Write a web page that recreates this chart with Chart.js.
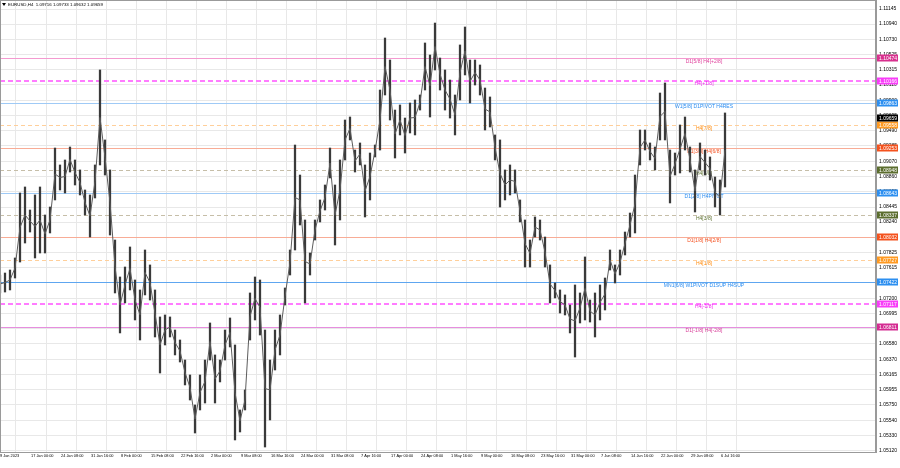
<!DOCTYPE html>
<html>
<head>
<meta charset="utf-8">
<script src="https://cdn.jsdelivr.net/npm/chart.js@4.4.0/dist/chart.umd.min.js"></script>
<style>
  html, body { margin: 0; padding: 0; background: #fff; }
</style>
</head>
<body>
<canvas id="chart" width="900" height="468"></canvas>
<script>
const highs = [
  1.07519, 1.07546, 1.07587, 1.07751, 1.08637, 1.08719, 1.08405, 1.08610, 1.08719, 1.08337,
  1.08446, 1.09250, 1.09019, 1.09087, 1.09264, 1.09087, 1.08951, 1.08678, 1.08610, 1.09019,
  1.10314, 1.09360, 1.08951, 1.07996, 1.07492, 1.07628, 1.07901, 1.07451, 1.07315, 1.07860,
  1.07656, 1.07315, 1.06947, 1.06974, 1.06947, 1.06769, 1.06633, 1.06360, 1.06156, 1.05747,
  1.06156, 1.06360, 1.06865, 1.06429, 1.06360, 1.06769, 1.06933, 1.06565, 1.05679, 1.05952,
  1.07274, 1.07492, 1.07451, 1.06769, 1.06360, 1.06769, 1.06974, 1.07342, 1.07860, 1.09291,
  1.08882, 1.08269, 1.07819, 1.08269, 1.08542, 1.08746, 1.09250, 1.08746, 1.09087, 1.09632,
  1.09673, 1.09223, 1.09319, 1.09019, 1.09182, 1.09291, 1.10041, 1.10750, 1.10450, 1.09768,
  1.09837, 1.09659, 1.09864, 1.09905, 1.09973, 1.10682, 1.10518, 1.10954, 1.10477, 1.10314,
  1.10177, 1.09973, 1.10655, 1.10900, 1.10450, 1.10450, 1.10382, 1.10068, 1.09946, 1.09428,
  1.09360, 1.08951, 1.09019, 1.08951, 1.08542, 1.08269, 1.07996, 1.08310, 1.08269, 1.08037,
  1.07656, 1.07410, 1.07315, 1.07247, 1.07110, 1.07383, 1.07274, 1.07765, 1.07178, 1.07274,
  1.07383, 1.07478, 1.07860, 1.07656, 1.07860, 1.08105, 1.08364, 1.08882, 1.09496, 1.09496,
  1.09319, 1.09264, 1.10000, 1.10137, 1.09223, 1.09182, 1.09564, 1.09673, 1.09264, 1.08951,
  1.09319, 1.09223, 1.09128, 1.08855, 1.08814, 1.09728
];
const lows = [
  1.07274, 1.07287, 1.07315, 1.07478, 1.07696, 1.07955, 1.08105, 1.07751, 1.07819, 1.07819,
  1.08092, 1.08542, 1.08678, 1.08637, 1.08923, 1.08746, 1.08610, 1.08337, 1.08037, 1.08569,
  1.09019, 1.08882, 1.08064, 1.07274, 1.06729, 1.07138, 1.07315, 1.06906, 1.06633, 1.07247,
  1.07178, 1.06674, 1.06183, 1.06565, 1.06674, 1.06429, 1.06333, 1.06020, 1.05815, 1.05365,
  1.05679, 1.05774, 1.06360, 1.05774, 1.06061, 1.06360, 1.06538, 1.05270, 1.05379, 1.05679,
  1.06633, 1.06906, 1.06701, 1.05174, 1.05543, 1.06224, 1.06429, 1.07110, 1.07519, 1.07860,
  1.08201, 1.07138, 1.07519, 1.07996, 1.08242, 1.08405, 1.08842, 1.07928, 1.08269, 1.09087,
  1.09360, 1.08923, 1.09019, 1.08310, 1.08542, 1.09128, 1.09223, 1.09973, 1.09632, 1.09114,
  1.09428, 1.09182, 1.09455, 1.09428, 1.09768, 1.10041, 1.09673, 1.10314, 1.10041, 1.09768,
  1.09659, 1.09428, 1.09905, 1.10246, 1.09864, 1.10109, 1.09973, 1.09496, 1.09537, 1.09087,
  1.08446, 1.08542, 1.08610, 1.08637, 1.08242, 1.07628, 1.07628, 1.08037, 1.07996, 1.07628,
  1.07138, 1.07206, 1.07001, 1.06974, 1.06729, 1.06401, 1.06865, 1.06906, 1.06878, 1.06674,
  1.06906, 1.07042, 1.07587, 1.07410, 1.07519, 1.07792, 1.08037, 1.08092, 1.09019, 1.09223,
  1.09087, 1.08951, 1.09360, 1.09360, 1.08501, 1.08882, 1.08910, 1.09223, 1.08923, 1.08378,
  1.08951, 1.08882, 1.08814, 1.08446, 1.08337, 1.08719
];

const dateLabels = [
  '9 Jan 2023', '17 Jan 00:00', '24 Jan 08:00', '31 Jan 16:00', '8 Feb 00:00', '15 Feb 08:00',
  '22 Feb 16:00', '2 Mar 00:00', '9 Mar 08:00', '16 Mar 16:00', '24 Mar 00:00', '31 Mar 08:00',
  '7 Apr 16:00', '17 Apr 00:00', '24 Apr 08:00', '1 May 16:00', '9 May 00:00', '16 May 08:00',
  '23 May 16:00', '31 May 00:00', '7 Jun 08:00', '14 Jun 16:00', '22 Jun 00:00', '29 Jun 08:00',
  '6 Jul 16:00'
];

const priceTicks = [
  1.11145, 1.10940, 1.10730, 1.10525, 1.10315, 1.10110, 1.09900, 1.09695, 1.09490, 1.09285,
  1.09070, 1.08860, 1.08655, 1.08445, 1.08240, 1.08035, 1.07825, 1.07615, 1.07410, 1.07200,
  1.06995, 1.06790, 1.06580, 1.06370, 1.06165, 1.05955, 1.05750, 1.05540, 1.05330, 1.05120
];

// Murrey levels drawn on the chart
const levelPrices = [1.10474, 1.10166, 1.09863, 1.09558, 1.09253, 1.08948, 1.08643,
                     1.08337, 1.08032, 1.07727, 1.07422, 1.07117, 1.06811];
const levelNames = ['D1[5/8] H4[+2/8]', 'H4[+1/8]', 'W1[5/8] D1PIVOT H4RES', 'H4[7/8]',
                    'D1[3/8] H4[6/8]', 'H4[5/8]', 'D1[2/8] H4PIVOT', 'H4[3/8]',
                    'D1[1/8] H4[2/8]', 'H4[1/8]', 'MN1[6/8] W1PIVOT D1SUP H4SUP',
                    'H4[-1/8]', 'D1[-1/8] H4[-2/8]'];
const levelKinds = ['pink', 'magenta', 'blue', 'orange', 'red', 'olive', 'blue',
                    'olive', 'red', 'orange', 'mn', 'magenta', 'purple'];

const lastPrice = 1.09659;
const header = 'EURUSD,H4  1.09716 1.09733 1.09632 1.09659';

const levelStyles = {
  pink:    { line: '#f49ad0', width: 1, dash: [],     tag: '#d8308e', text: '#e0409c' },
  magenta: { line: '#ff7cff', width: 2, dash: [5, 3], tag: '#f83cf8', text: '#f020f0' },
  blue:    { line: '#9fcaf6', width: 1, dash: [],     tag: '#2d8ff0', text: '#2a8cf0' },
  orange:  { line: '#ffcf9a', width: 1, dash: [4, 3], tag: '#ff9a22', text: '#ff8c10' },
  red:     { line: '#f8ac96', width: 1, dash: [],     tag: '#f4521e', text: '#f45020' },
  olive:   { line: '#c6bea8', width: 1, dash: [4, 3], tag: '#5b6d2e', text: '#5f7232' },
  mn:      { line: '#5ea6f0', width: 1, dash: [],     tag: '#2d8ff0', text: '#2a8cf0' },
  purple:  { line: '#e68ede', width: 1, dash: [],     tag: '#d42c92', text: '#d83c98' }
};

const FONT = '"Liberation Sans", Arial, sans-serif';
const labelAt = 140.8;       // time position of the level captions (in samples)
const tickPos = dateLabels.map((_, k) => (k === 0 ? 0 : 6.2 + 6 * (k - 1)));

const candles = highs.map((h, i) => ({ x: i, y: [lows[i], h] }));
const mids = highs.map((h, i) => ({ x: i, y: (h + lows[i]) / 2 }));

// no extra room for overflowing tick labels, the plot fills the canvas like MT4
const noPad = (axis) => {
  axis.paddingTop = 0; axis.paddingBottom = 0;
  axis.paddingLeft = 0; axis.paddingRight = 0;
};

const levelsPlugin = {
  id: 'levels',
  beforeDatasetsDraw(chart) {
    const { ctx, chartArea: a, scales: { x, y } } = chart;
    ctx.save();
    ctx.beginPath();
    ctx.rect(a.left, a.top, a.right - a.left, a.bottom - a.top);
    ctx.clip();
    levelPrices.forEach((p, i) => {
      const s = levelStyles[levelKinds[i]];
      const py = Math.round(y.getPixelForValue(p)) + (s.width === 1 ? 0.5 : 0);
      ctx.strokeStyle = s.line;
      ctx.lineWidth = s.width;
      ctx.setLineDash(s.dash);
      ctx.beginPath();
      ctx.moveTo(a.left, py);
      ctx.lineTo(a.right, py);
      ctx.stroke();
      ctx.setLineDash([]);
      ctx.fillStyle = s.text;
      ctx.font = '5px ' + FONT;
      ctx.textAlign = 'center';
      ctx.textBaseline = 'middle';
      ctx.fillText(levelNames[i], x.getPixelForValue(labelAt), py + 3);
    });
    ctx.restore();
  },
  afterDraw(chart) {
    const { ctx, chartArea: a, scales: { y } } = chart;
    ctx.save();
    // frame
    ctx.strokeStyle = '#9a9a9a';
    ctx.lineWidth = 1;
    ctx.strokeRect(a.left + 0.5, a.top + 0.5, a.right - a.left - 1, a.bottom - a.top);

    // price tags on the right axis
    ctx.font = '5px ' + FONT;
    ctx.textAlign = 'left';
    ctx.textBaseline = 'middle';
    const tag = (p, bg) => {
      const py = Math.round(y.getPixelForValue(p));
      ctx.fillStyle = bg;
      ctx.fillRect(a.right + 1, py - 3.5, 21, 7);
      ctx.fillStyle = '#fff';
      ctx.fillText(p.toFixed(5), a.right + 3, py + 0.5);
    };
    levelPrices.forEach((p, i) => tag(p, levelStyles[levelKinds[i]].tag));
    tag(lastPrice, '#000');

    // header
    ctx.fillStyle = '#000';
    ctx.beginPath();
    ctx.moveTo(2, 3);
    ctx.lineTo(6, 3);
    ctx.lineTo(4, 6);
    ctx.closePath();
    ctx.fill();
    ctx.font = '4.4px ' + FONT;
    ctx.fillText(header, 8, 5);
    ctx.restore();
  }
};

new Chart(document.getElementById('chart'), {
  type: 'bar',
  data: {
    datasets: [
      {
        type: 'line',
        data: mids,
        borderColor: '#5c5c5c',
        borderWidth: 1,
        pointRadius: 0,
        tension: 0
      },
      {
        type: 'bar',
        data: candles,
        backgroundColor: '#3a3a3a',
        barThickness: 1.6
      }
    ]
  },
  options: {
    responsive: false,
    animation: false,
    layout: { padding: 0 },
    plugins: { legend: { display: false }, tooltip: { enabled: false } },
    scales: {
      x: {
        type: 'linear',
        min: 0,
        max: 175.2,
        offset: false,
        grid: { color: '#e8e8e8', drawTicks: false },
        border: { color: '#9a9a9a' },
        afterBuildTicks: (axis) => { axis.ticks = tickPos.map(v => ({ value: v })); },
        afterFit: (axis) => { axis.height = 16; noPad(axis); },
        ticks: {
          autoSkip: false,
          maxRotation: 0,
          align: 'start',
          padding: 2,
          color: '#000',
          font: { family: FONT, size: 3.9 },
          callback: (v, i) => dateLabels[i]
        }
      },
      y: {
        position: 'right',
        min: 1.05106,
        max: 1.11268,
        grid: { color: '#e8e8e8', drawTicks: false },
        border: { color: '#9a9a9a' },
        afterBuildTicks: (axis) => { axis.ticks = priceTicks.map(v => ({ value: v })); },
        afterFit: (axis) => { axis.width = 24; noPad(axis); },
        ticks: {
          padding: 3,
          color: '#000',
          font: { family: FONT, size: 5 },
          callback: (v) => v.toFixed(5)
        }
      }
    }
  },
  plugins: [levelsPlugin]
});
</script>
</body>
</html>
